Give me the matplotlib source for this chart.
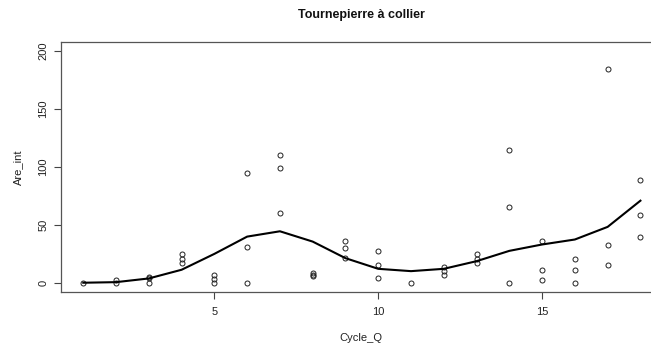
import matplotlib
matplotlib.use("Agg")
import matplotlib.pyplot as plt

plt.rcParams["font.family"] = ["Liberation Sans", "DejaVu Sans"]

# observed values per cycle
cycle_x = [1, 2, 2, 3, 3, 3, 4, 4, 4, 5, 5, 5, 6, 6, 6, 7, 7, 7, 8, 8, 8,
           9, 9, 9, 10, 10, 10, 11, 12, 12, 12, 13, 13, 13, 14, 14, 14,
           15, 15, 15, 16, 16, 16, 17, 17, 17, 18, 18, 18]
are_int = [0, 2.6, 0, 5.2, 4, 0, 24.7, 20.9, 17.2, 6.6, 3.2, 0, 94.6, 31, 0,
           110.6, 98.6, 59.9, 8.3, 6.9, 5.4, 35.8, 29.8, 21.2, 27.2, 14.9, 4.0,
           0, 13.5, 10.0, 6.9, 24.4, 20.6, 17.2, 114.6, 65.6, 0,
           35.8, 10.9, 2.3, 20.1, 10.9, 0, 184.6, 32.7, 14.9, 88.6, 58.2, 39.3]

# smoothed curve
smooth_x = list(range(1, 19))
smooth_y = [0, 0.5, 3.7, 11.2, 24.9, 39.8, 44.4, 35.5, 21.2, 12.0, 10.0, 12.0,
            18.6, 27.5, 33.0, 37.3, 48.2, 70.8]

x_ticks = [5, 10, 15]
y_ticks = [0, 50, 100, 150, 200]

fig = plt.figure(figsize=(6.51, 3.47), dpi=100, facecolor="white")
W, H = 651, 347
# the plot box runs past the right edge of the picture, as in the original
ax = fig.add_axes([61 / W, 1 - 292 / H, (662.7 - 61) / W, (292 - 41.7) / H])

ax.plot(cycle_x, are_int, linestyle="none", marker="o", markersize=3.6,
        markerfacecolor="none", markeredgecolor="#222222", markeredgewidth=0.7)
ax.plot(smooth_x, smooth_y, color="black", linewidth=1.5)

ax.set_xlim(0.32, 18.68)
ax.set_ylim(-8, 208)
ax.set_xticks(x_ticks)
ax.set_yticks(y_ticks)
ax.set_yticklabels([str(v) for v in y_ticks], rotation=90, va="center")
ax.tick_params(length=5, width=0.8, color="#444444", labelsize=8,
               labelcolor="#222222")
ax.tick_params(axis="x", pad=6)
ax.tick_params(axis="y", pad=4)
for spine in ax.spines.values():
    spine.set_color("#555555")
    spine.set_linewidth(0.9)

fig.text(361 / W, 1 - 15 / H, "Tournepierre à collier", ha="center", va="center",
         fontsize=9, fontweight="bold", color="#111111")
fig.text(361 / W, 1 - 338 / H, "Cycle_Q", ha="center", va="center",
         fontsize=8, color="#222222")
fig.text(18 / W, 1 - 167 / H, "Are_int", ha="center", va="center",
         rotation=90, fontsize=8, color="#222222")

fig.savefig("out.png", dpi=100, facecolor="white")
